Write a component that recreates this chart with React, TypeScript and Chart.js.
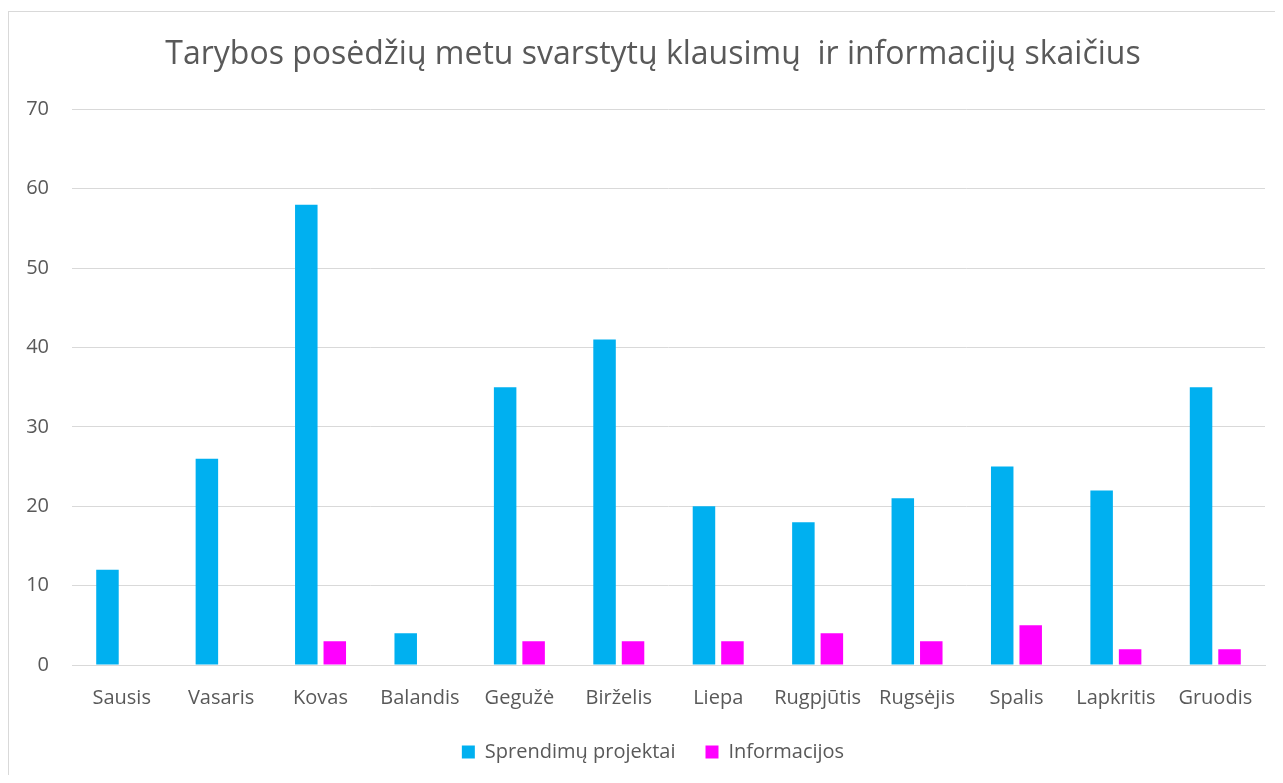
import React, { useEffect, useRef } from "react";
import { Chart, registerables } from "chart.js";

Chart.register(...registerables);

const months = ["Sausis", "Vasaris", "Kovas", "Balandis", "Gegužė", "Birželis", "Liepa", "Rugpjūtis", "Rugsėjis", "Spalis", "Lapkritis", "Gruodis"];
const sprendimai = [12, 26, 58, 4, 35, 41, 20, 18, 21, 25, 22, 35];
const informacijos = [0, 0, 3, 0, 3, 3, 3, 4, 3, 5, 2, 2];
const seriesNames = ["Sprendimų projektai", "Informacijos"];
const titleText = "Tarybos posėdžių metu svarstytų klausimų  ir informacijų skaičius";

const FONT = "'Open Sans', Lato, sans-serif";
const TEXT = "#595959";

export default function App() {
  const ref = useRef<HTMLCanvasElement | null>(null);
  useEffect(() => {
    document.body.style.overflow = "hidden";
    document.documentElement.style.overflow = "hidden";
    const chart = new Chart(ref.current!, {
      type: "bar",
      data: {
        labels: months,
        datasets: [
          { label: seriesNames[0], data: sprendimai, backgroundColor: "#00b0f0", borderWidth: 0, categoryPercentage: 0.573, barPercentage: 0.79, yAxisID: "y" },
          { label: seriesNames[1], data: informacijos, backgroundColor: "#ff00ff", borderWidth: 0, categoryPercentage: 0.573, barPercentage: 0.79, yAxisID: "y" },
        ],
      },
      options: {
        animation: false,
        responsive: false,
        layout: { padding: { left: 0, right: 0, top: 0, bottom: 3 } },
        plugins: {
          title: {
            display: true,
            text: titleText,
            color: TEXT,
            font: { family: FONT, size: 32, weight: "normal" },
            padding: { top: 24, bottom: 35 },
          },
          legend: {
            position: "bottom",
            labels: {
              color: TEXT,
              font: { family: FONT, size: 20 },
              boxWidth: 13,
              boxHeight: 13,
              padding: 30,
            },
          },
          tooltip: { enabled: false },
        },
        scales: {
          x: {
            grid: { display: false, drawTicks: false },
            border: { color: "#d9d9d9", width: 1 },
            afterFit: (s: any) => { s.height -= 19; },
            ticks: { color: TEXT, font: { family: FONT, size: 20 }, padding: 21, maxRotation: 0, autoSkip: false },
          },
          y: {
            position: "left",
            min: 0,
            max: 70,
            afterFit: (s: any) => { s.width = 63; },
            grid: { color: "#d9d9d9", lineWidth: 1, drawTicks: false },
            border: { display: false },
            ticks: { stepSize: 10, color: TEXT, font: { family: FONT, size: 20 }, padding: 23 },
          },
          yR: {
            position: "right",
            min: 0,
            max: 70,
            afterFit: (s: any) => { s.width = 32; },
            grid: { display: false, drawTicks: false },
            border: { display: false },
            ticks: { display: false },
          },
        },
      },
    });
    return () => chart.destroy();
  }, []);
  return (
    <div style={{ marginTop: 3, width: 1289, height: 764, borderTop: "1px solid #d9d9d9", borderLeft: "1px solid #d9d9d9", boxSizing: "border-box" }}>
      <canvas ref={ref} width={1288} height={763} style={{ display: "block" }} />
    </div>
  );
}
